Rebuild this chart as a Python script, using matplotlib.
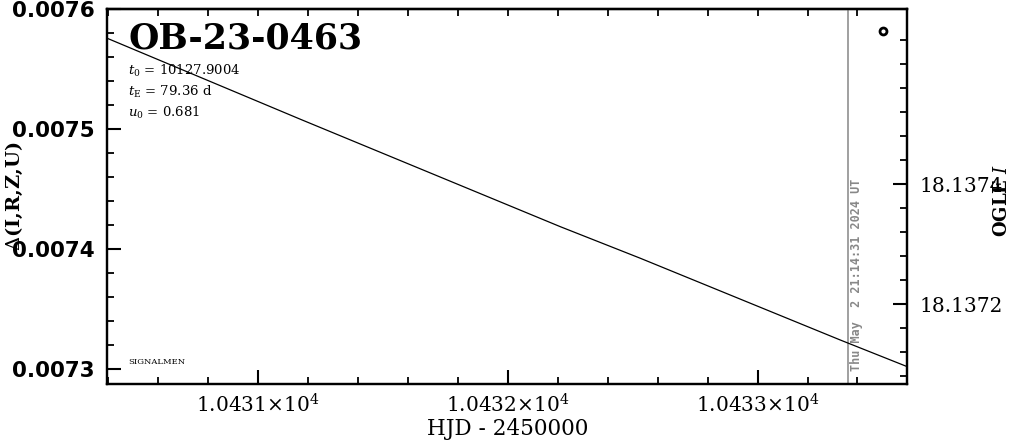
import numpy as np
import matplotlib
matplotlib.use("Agg")
import matplotlib.pyplot as plt
from matplotlib.ticker import FixedLocator, MultipleLocator, AutoMinorLocator

# ---- data ----
model_hjd = [10430.40, 10431.171, 10432.211, 10432.531, 10433.331, 10433.60]
model_delta = [0.0075754, 0.0075081, 0.0074186, 0.0073923, 0.0073242, 0.0073019]

ogle_hjd = [10433.502]
ogle_mag = [18.137656]

now_hjd = 10433.362
now_label = "Thu May  2 21:14:31 2024 UT"

event_name = "OB-23-0463"
params = [r"$t_0$ = 10127.9004", r"$t_{\rm E}$ = 79.36 d", r"$u_0$ = 0.681"]

x_ticks = [10431, 10432, 10433]
x_ticklabels = [r"$1.0431{\times}10^4$", r"$1.0432{\times}10^4$", r"$1.0433{\times}10^4$"]
left_ticks = [0.0073, 0.0074, 0.0075, 0.0076]
left_ticklabels = ["0.0073", "0.0074", "0.0075", "0.0076"]
right_ticks = [18.1372, 18.1374]
right_ticklabels = ["18.1372", "18.1374"]

xlim = (10430.398, 10433.600)
ylim_left = (0.0072878, 0.0076)
ylim_right = (18.137068, 18.137692)

# ---- figure ----
plt.rcParams['mathtext.fontset'] = 'dejavuserif'
fig = plt.figure(figsize=(10.11, 4.41), dpi=100)
ax = fig.add_axes([0.1061, 0.130, 0.7915, 0.8496])
ax2 = ax.twinx()

ax.plot(model_hjd, model_delta, color='black', lw=0.9, zorder=3)
ax.axvline(now_hjd, color='#999999', lw=1.3, zorder=2)
ax2.plot(ogle_hjd, ogle_mag, 'o', mfc='none', mec='black', mew=2.0, ms=5, zorder=4)

ax.set_xlim(*xlim)
ax.set_ylim(*ylim_left)
ax2.set_ylim(*ylim_right)

for a in (ax, ax2):
    for s in a.spines.values():
        s.set_linewidth(1.6)

ax.set_xticks(x_ticks)
ax.set_xticklabels(x_ticklabels, fontsize=14.5, family='DejaVu Serif')
ax.xaxis.set_minor_locator(MultipleLocator(0.2))
ax.set_yticks(left_ticks)
ax.set_yticklabels(left_ticklabels, fontsize=15.5, fontweight='bold', family='DejaVu Sans')
ax.yaxis.set_minor_locator(AutoMinorLocator(5))
ax.tick_params(axis='x', which='major', direction='in', length=10, width=1.5, pad=7)
ax.tick_params(axis='y', which='major', direction='in', length=10, width=1.5, pad=9)
ax.tick_params(axis='both', which='minor', direction='in', length=5, width=1.3)
ax.tick_params(axis='x', which='both', top=False)
ax.tick_params(axis='y', which='both', right=False)

top = ax.secondary_xaxis('top')
top.set_xticks(np.arange(10430.4, 10433.61, 0.2))
top.tick_params(direction='in', length=5, width=1.3, labeltop=False)
top.set_xticklabels([])
top.spines['top'].set_linewidth(1.6)

ax2.yaxis.set_major_locator(FixedLocator(right_ticks))
ax2.set_yticklabels(right_ticklabels, fontsize=14.5, family='DejaVu Serif')
ax2.yaxis.set_minor_locator(FixedLocator(np.arange(18.13708, 18.137665, 0.00004)))
ax2.tick_params(axis='y', which='major', direction='in', length=10, width=1.5, pad=9)
ax2.tick_params(axis='y', which='minor', direction='in', length=5, width=1.3)

ax.set_xlabel("HJD - 2450000", fontsize=15.5, family='DejaVu Serif', labelpad=1)
fig.text(0.014, 0.556, r"$\Delta$(I,R,Z,U)", rotation=90, fontsize=14, fontweight='bold',
         family='DejaVu Serif', ha='center', va='center')
fig.text(0.991, 0.546, r"OGLE $I$", rotation=90, fontsize=13, fontweight='bold',
         family='DejaVu Serif', ha='center', va='center')

ax.text(0.026, 0.921, event_name, transform=ax.transAxes, fontsize=25, fontweight='bold',
        family='DejaVu Serif', va='center', ha='left')
for i, p in enumerate(params):
    ax.text(0.026, 0.834 - i * 0.056, p, transform=ax.transAxes, fontsize=9.5,
            family='DejaVu Serif', va='center', ha='left')
ax.text(0.026, 0.058, "SIGNALMEN", transform=ax.transAxes, fontsize=6,
        family='DejaVu Serif', va='center', ha='left')

ax.text(now_hjd + 0.035, 0.0072985, now_label, rotation=90, color='#888888', fontsize=8.5,
        fontweight='bold', family='DejaVu Sans Mono', ha='center', va='bottom')

fig.savefig("out.png", dpi=100)
